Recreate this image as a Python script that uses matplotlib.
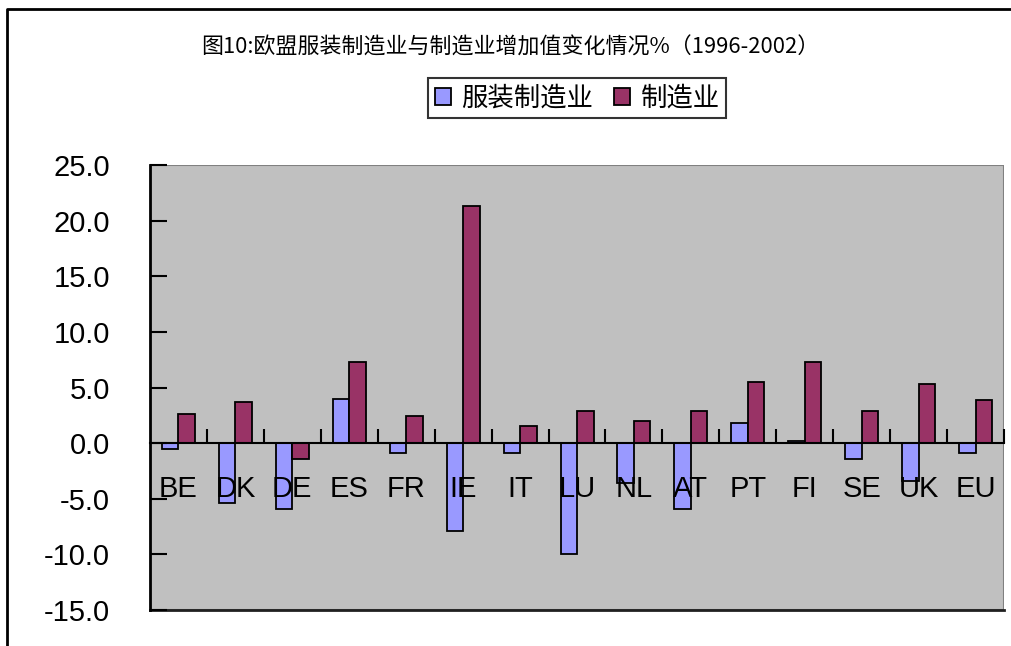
import numpy as np
import matplotlib.pyplot as plt
from matplotlib.lines import Line2D
from matplotlib.patches import Rectangle

countries = ["BE", "DK", "DE", "ES", "FR", "IE", "IT", "LU",
             "NL", "AT", "PT", "FI", "SE", "UK", "EU"]
apparel = [-0.5, -5.4, -5.9, 4.0, -0.9, -7.9, -0.9, -10.0,
           -3.6, -5.9, 1.8, 0.2, -1.4, -3.4, -0.9]
manufacturing = [2.6, 3.7, -1.4, 7.3, 2.4, 21.3, 1.5, 2.9,
                 2.0, 2.9, 5.5, 7.3, 2.9, 5.3, 3.9]
series_names = ["服装制造业", "制造业"]
title = "图10:欧盟服装制造业与制造业增加值变化情况%（1996-2002）"

plt.rcParams['font.family'] = ['Noto Sans CJK SC', 'DejaVu Sans']

fig = plt.figure(figsize=(10.11, 6.46), dpi=100)
ax = fig.add_axes([0.1484, 0.0557, 0.8447, 0.6889])
ax.set_facecolor("#C0C0C0")
ax.set_axisbelow(False)

x = np.arange(len(countries))
w = 0.29
b1 = ax.bar(x - w / 2, apparel, w, color="#9999FF", edgecolor="black",
            linewidth=1.3, label=series_names[0], zorder=2)
b2 = ax.bar(x + w / 2, manufacturing, w, color="#993366", edgecolor="black",
            linewidth=1.3, label=series_names[1], zorder=2)

ax.set_xlim(-0.5, len(countries) - 0.5)
ax.set_ylim(-15, 25)

# frame of plot area
ax.add_patch(Rectangle((0, 0), 1, 1, transform=ax.transAxes, fill=False,
                       edgecolor="#808080", linewidth=1.5, zorder=1))
ax.plot([0, 1], [0, 0], transform=ax.transAxes, color="#202020",
        linewidth=2, clip_on=False, zorder=1)
for s in ["top", "right"]:
    ax.spines[s].set_visible(False)
ax.spines["left"].set_linewidth(2)
ax.spines["bottom"].set_position(("data", 0))
ax.spines["bottom"].set_linewidth(1.5)
ax.spines["bottom"].set_zorder(4)

ax.set_yticks(np.arange(-15, 26, 5))
ax.set_yticklabels([f"{v:.1f}" for v in np.arange(-15, 26, 5)],
                   family="Liberation Sans", fontsize=21)
ax.tick_params(axis="y", direction="in", length=12, width=1.5, pad=29)

ax.set_xticks(x + 0.5)
ax.set_xticklabels([])
ax.set_xticks(x, minor=True)
ax.set_xticklabels(countries, minor=True, family="Liberation Sans", fontsize=21)
ax.tick_params(axis="x", which="major", direction="in", length=10, width=1.5)
ax.tick_params(axis="x", which="minor", length=0, pad=23)

fig.text(0.505, 0.927, title, ha="center", va="center", fontsize=15.8)
fig.legend(handles=[b1, b2], loc="center", bbox_to_anchor=(0.571, 0.848),
           ncol=2, fontsize=19, frameon=True, fancybox=False,
           edgecolor="black", handlelength=0.6, handleheight=0.6,
           handletextpad=0.4, columnspacing=0.8, borderpad=0.25,
           borderaxespad=0)
leg = fig.legends[0]
leg.get_frame().set_linewidth(1.5)

# outer chart border (top and left edges visible)
fig.add_artist(Line2D([7 / 1011, 7 / 1011, 1.0], [0.0, 1 - 9 / 646, 1 - 9 / 646],
                      transform=fig.transFigure, color="black", linewidth=2))

fig.savefig("out.png", dpi=100)
